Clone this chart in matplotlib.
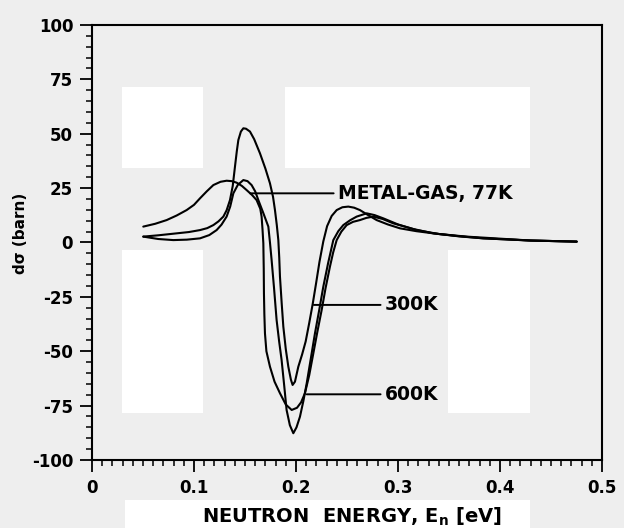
import matplotlib.pyplot as plt
from matplotlib.patches import Rectangle
from matplotlib.ticker import MultipleLocator

plt.rcParams['font.family'] = ['DejaVu Sans']
plt.rcParams['font.weight'] = 'bold'
plt.rcParams['axes.unicode_minus'] = False

# difference cross section d(sigma) in barn vs neutron energy in eV

# metal-gas model, 77K (broad curve)
e_metal_gas = [0.0503, 0.0620, 0.0732, 0.0830, 0.0928, 0.1000, 0.1059, 0.1125,
               0.1190, 0.1260, 0.1320, 0.1370, 0.1418, 0.1470, 0.1516, 0.1570,
               0.1614, 0.1650, 0.1663, 0.1672, 0.1680, 0.1684, 0.1686, 0.1690,
               0.1696, 0.1710, 0.1745, 0.1790, 0.1843, 0.1900, 0.1958, 0.2010,
               0.2050, 0.2088, 0.2130, 0.2170, 0.2210, 0.2252, 0.2290, 0.2333,
               0.2365, 0.2399, 0.2445, 0.2497, 0.2560, 0.2627, 0.2690, 0.2758,
               0.2850, 0.2954, 0.3150, 0.3346, 0.3600, 0.3837, 0.4300, 0.4752]
ds_metal_gas = [7.3, 8.6, 10.3, 12.4, 14.9, 17.3, 20.3, 23.5,
                26.4, 27.9, 28.4, 28.2, 27.5, 26.0, 24.1, 21.8,
                19.5, 15.5, 11.9, 6.0, -0.4, -12.0, -23.4, -33.0,
                -41.8, -50.0, -57.1, -64.0, -69.3, -74.5, -77.0, -76.0,
                -73.5, -69.3, -61.0, -51.0, -41.0, -31.0, -21.0, -11.1,
                -4.5, 1.1, 5.0, 8.0, 9.5, 10.3, 11.3, 11.9,
                10.8, 8.8, 6.2, 4.2, 2.8, 1.9, 0.9, 0.4]

# 300K
e_300k = [0.0503, 0.0650, 0.0830, 0.0950, 0.1059, 0.1130, 0.1190, 0.1240,
          0.1288, 0.1320, 0.1353, 0.1380, 0.1402, 0.1420, 0.1435, 0.1460,
          0.1484, 0.1510, 0.1549, 0.1590, 0.1647, 0.1700, 0.1745, 0.1775,
          0.1794, 0.1812, 0.1827, 0.1836, 0.1843, 0.1860, 0.1876, 0.1900,
          0.1925, 0.1950, 0.1967, 0.1990, 0.2023, 0.2060, 0.2095, 0.2130,
          0.2165, 0.2198, 0.2230, 0.2268, 0.2305, 0.2350, 0.2399, 0.2455,
          0.2513, 0.2570, 0.2627, 0.2700, 0.2791, 0.2900, 0.3020, 0.3180,
          0.3346, 0.3600, 0.3837, 0.4300, 0.4752]
ds_300k = [2.7, 3.3, 4.2, 4.8, 5.7, 6.6, 8.0, 9.7,
           11.9, 14.8, 19.5, 26.0, 34.9, 42.0, 47.1, 51.0,
           52.5, 52.3, 51.0, 47.5, 41.0, 34.0, 27.2, 21.0,
           14.9, 8.0, 1.1, -7.0, -15.7, -28.0, -38.7, -49.0,
           -57.1, -63.0, -65.5, -64.0, -57.1, -51.5, -45.5, -37.0,
           -28.0, -18.5, -9.0, 0.5, 7.5, 12.2, 14.9, 16.2,
           16.5, 16.0, 14.9, 12.8, 10.3, 8.3, 6.5, 5.2,
           4.2, 2.9, 1.9, 0.9, 0.4]

# 600K
e_600k = [0.0503, 0.0650, 0.0797, 0.0930, 0.1059, 0.1150, 0.1222, 0.1270,
          0.1320, 0.1355, 0.1386, 0.1430, 0.1484, 0.1525, 0.1565, 0.1600,
          0.1631, 0.1680, 0.1729, 0.1745, 0.1761, 0.1785, 0.1810, 0.1835,
          0.1859, 0.1885, 0.1908, 0.1940, 0.1974, 0.2005, 0.2039, 0.2072,
          0.2105, 0.2145, 0.2186, 0.2228, 0.2268, 0.2315, 0.2366, 0.2415,
          0.2464, 0.2530, 0.2595, 0.2693, 0.2770, 0.2856, 0.3000, 0.3183,
          0.3400, 0.3673, 0.4300, 0.4752]
ds_600k = [2.7, 1.6, 1.1, 1.3, 1.9, 3.4, 5.7, 8.2,
           11.9, 16.5, 22.6, 26.5, 28.7, 28.2, 26.4, 23.5,
           19.5, 13.5, 7.3, 0.0, -8.0, -21.0, -35.6, -45.5,
           -54.0, -66.0, -77.0, -84.0, -87.7, -85.0, -80.1, -73.0,
           -64.8, -53.5, -41.8, -31.0, -20.3, -9.5, 1.1, 5.2,
           8.0, 10.2, 11.9, 13.4, 12.6, 11.1, 8.3, 5.7,
           3.9, 2.7, 0.9, 0.4]

x_ticks = [0, 0.1, 0.2, 0.3, 0.4, 0.5]
x_tick_labels = ['0', '0.1', '0.2', '0.3', '0.4', '0.5']
y_ticks = [100, 75, 50, 25, 0, -25, -50, -75, -100]

fig = plt.figure(figsize=(6.24, 5.28), dpi=100, facecolor='#eeeeee')

# paler panels behind the plot
for x0, y0, x1, y1 in [(122, 87, 203, 168), (285, 87, 530, 168),
                       (122, 250, 203, 413), (448, 250, 530, 413),
                       (125, 500, 530, 528)]:
    fig.add_artist(Rectangle((x0 / 624, 1 - y1 / 528), (x1 - x0) / 624,
                             (y1 - y0) / 528, transform=fig.transFigure,
                             facecolor='white', edgecolor='none', zorder=-1))

ax = fig.add_axes([0.1474, 0.1288, 0.8173, 0.8239])
ax.set_facecolor('none')

for e, ds in [(e_metal_gas, ds_metal_gas), (e_300k, ds_300k), (e_600k, ds_600k)]:
    ax.plot(e, ds, color='black', lw=1.5, solid_joinstyle='round',
            solid_capstyle='round')

ax.set_xlim(0, 0.5)
ax.set_ylim(-100, 100)
ax.set_xticks(x_ticks)
ax.set_xticklabels(x_tick_labels)
ax.set_yticks(y_ticks)
ax.xaxis.set_minor_locator(MultipleLocator(0.01))
ax.yaxis.set_minor_locator(MultipleLocator(5))
ax.tick_params(which='major', direction='out', length=8.5, width=1.3,
               labelsize=12, pad=5)
ax.tick_params(which='minor', direction='out', length=4.5, width=1.1)
for sp in ax.spines.values():
    sp.set_linewidth(1.5)

ax.set_xlabel('NEUTRON  ENERGY, E$_{\\mathbf{n}}$ [eV]', fontsize=14,
              fontweight='bold')
ax.xaxis.set_label_coords(0.51, -0.105)
ax.xaxis.label.set_va('top')
ax.set_ylabel('dσ (barn)', fontsize=11, fontweight='bold')
ax.yaxis.set_label_coords(-0.125, 0.52)

# curve labels with leader lines
leader = dict(arrowstyle='-', lw=1.4, color='black', shrinkA=1, shrinkB=0)
ax.annotate('METAL-GAS, 77K', xy=(0.155, 22.6), xytext=(0.241, 22.6),
            ha='left', va='center', fontsize=13.5, fontweight='bold',
            arrowprops=leader)
ax.annotate('300K', xy=(0.2175, -28.7), xytext=(0.287, -28.7),
            ha='left', va='center', fontsize=13.5, fontweight='bold',
            arrowprops=leader)
ax.annotate('600K', xy=(0.2105, -69.8), xytext=(0.287, -69.8),
            ha='left', va='center', fontsize=13.5, fontweight='bold',
            arrowprops=leader)

fig.savefig('out.png', dpi=100, facecolor=fig.get_facecolor())
